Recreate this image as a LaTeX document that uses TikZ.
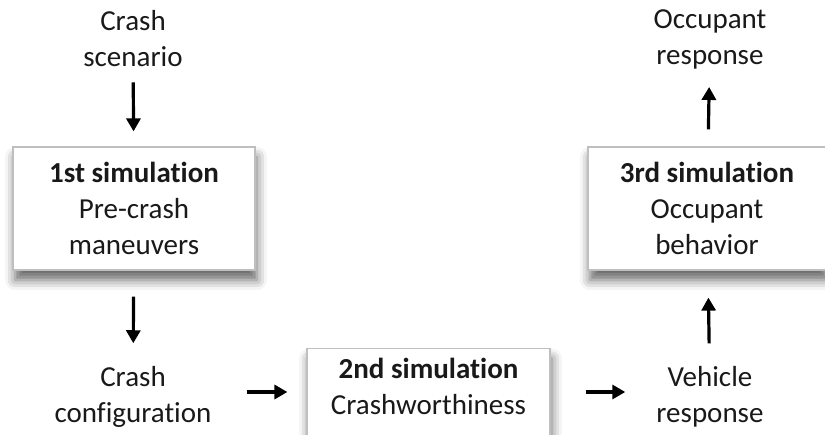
\documentclass[tikz,border=0pt]{standalone}
\usepackage{fontspec}
\setmainfont{Carlito}[Ligatures={NoCommon}]
\usetikzlibrary{arrows.meta,shadows.blur}
\begin{document}
\begin{tikzpicture}[x=1pt,y=-1pt,
  font=\fontsize{29}{36}\selectfont,
  label/.style={align=center, inner sep=0pt, text=black!90},
  simbox/.style={draw=black!25, line width=1.2pt, fill=white, align=center,
    minimum height=123pt, inner sep=0pt, text=black!90,
    blur shadow={shadow xshift=2pt, shadow yshift=-10pt, shadow blur radius=10pt, shadow opacity=60}},
  flow/.style={line width=3.2pt, -{Triangle[length=13pt,width=14pt]}, black}]
\useasboundingbox (0,0) rectangle (825,434);
\clip (0,0) rectangle (825,434);

% simulation stages
\node[simbox, minimum width=242pt] (b1) at (134,208.5)
  {\textbf{1st simulation}\\Pre-crash\\maneuvers};
\node[simbox, minimum width=243pt, anchor=north] (b2) at (428.5,348)
  {\textbf{2nd simulation}\\Crashworthiness\\\strut};
\node[simbox, minimum width=238pt] (b3) at (707,208.5)
  {\textbf{3rd simulation}\\Occupant\\behavior};

% inputs and outputs
\node[label] (scen) at (133,39) {Crash\\scenario};
\node[label] (conf) at (133,397) {Crash\\configuration};
\node[label] (veh) at (710,397) {Vehicle\\response};
\node[label] (occ) at (710,39) {Occupant\\response};

% flow arrows
\draw[flow, shorten <=15pt, shorten >=15pt] (scen) -- (b1);
\draw[flow, shorten <=26pt, shorten >=23pt] (b1) -- (conf);
\draw[flow, shorten <=35pt, shorten >=19pt] ([yshift=5pt]conf.east) -- ([yshift=5pt]conf.east -| b2.west);
\draw[flow, shorten <=35pt, shorten >=31pt] ([yshift=5pt]b2.east |- veh) -- ([yshift=5pt]veh.west);
\draw[flow, shorten <=23pt, shorten >=27pt] (veh) -- (b3);
\draw[flow, shorten <=17pt, shorten >=18pt] (b3) -- (occ);
\end{tikzpicture}
\end{document}
